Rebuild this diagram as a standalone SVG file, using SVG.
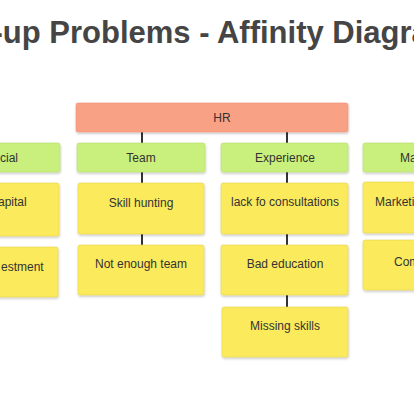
<svg xmlns="http://www.w3.org/2000/svg" width="414" height="400" viewBox="0 0 414 400">
<defs>
<filter id="sh" x="-10%" y="-20%" width="120%" height="150%">
<feDropShadow dx="0.5" dy="1.5" stdDeviation="1.3" flood-color="#000" flood-opacity="0.22"/>
</filter>
</defs>
<style>
.hr{fill:#F9A185;stroke:#EE9478;stroke-width:0.6;filter:url(#sh)}
.cat{fill:#C9F07C;stroke:#B5DC6A;stroke-width:0.6;filter:url(#sh)}
.note{fill:#FBEA5C;stroke:#E6D34A;stroke-width:0.6;filter:url(#sh)}
.t{font-family:"Liberation Sans",Arial,sans-serif;font-size:12px;fill:#333;text-anchor:middle}
.ts{font-family:"Liberation Sans",Arial,sans-serif;font-size:12px;fill:#333}
.title{font-family:"Liberation Sans",Arial,sans-serif;font-size:31px;font-weight:bold;fill:#454545}
.c{stroke:#333;stroke-width:2;fill:none}
</style>
<rect width="414" height="400" fill="#fff"/>
<text class="title" x="-7.5" y="43">-up Problems - Affinity Diagra</text>
<g id="connectors">
<line class="c" x1="142" y1="132" x2="142" y2="143"/>
<line class="c" x1="287" y1="132" x2="287" y2="143"/>
<line class="c" x1="142" y1="172" x2="142" y2="183"/>
<line class="c" x1="287" y1="172" x2="287" y2="183"/>
<line class="c" x1="142" y1="234" x2="142" y2="245"/>
<line class="c" x1="287" y1="234" x2="287" y2="245"/>
<line class="c" x1="287" y1="295" x2="287" y2="307"/>
</g>
<g id="hr"><rect class="hr" x="76" y="103" width="272" height="29" rx="2"/><text class="t" x="222" y="122">HR</text></g>
<g id="financial"><rect class="cat" x="-70" y="143" width="130" height="29" rx="2"/><text class="ts" x="0" y="162">cial</text></g>
<g id="team"><rect class="cat" x="77" y="143" width="128" height="29" rx="2"/><text class="t" x="141" y="162">Team</text></g>
<g id="experience"><rect class="cat" x="221" y="143" width="127" height="29" rx="2"/><text class="t" x="285" y="162">Experience</text></g>
<g id="ma"><rect class="cat" x="363" y="143" width="80" height="29" rx="2"/><text class="ts" x="400" y="162">Ma</text></g>
<g id="capital"><rect class="note" x="-70" y="183" width="129" height="53" rx="2"/><text class="ts" x="-2" y="206">apital</text></g>
<g id="investment"><rect class="note" x="-70" y="247" width="128" height="50" rx="2"/><text class="ts" x="1" y="271">estment</text></g>
<g id="skill-hunting"><rect class="note" x="78" y="183" width="126" height="51" rx="2"/><text class="t" x="141" y="207">Skill hunting</text></g>
<g id="not-enough-team"><rect class="note" x="78" y="245" width="126" height="50" rx="2"/><text class="t" x="141" y="268">Not enough team</text></g>
<g id="lack-consultations"><rect class="note" x="221" y="183" width="127" height="51" rx="2"/><text class="t" x="285" y="206">lack fo consultations</text></g>
<g id="bad-education"><rect class="note" x="221" y="245" width="127" height="50" rx="2"/><text class="t" x="285" y="268">Bad education</text></g>
<g id="missing-skills"><rect class="note" x="222" y="307" width="126" height="50" rx="2"/><text class="t" x="285" y="330">Missing skills</text></g>
<g id="marketing"><rect class="note" x="363" y="182" width="80" height="51" rx="2"/><text class="ts" x="375" y="206">Marketi</text></g>
<g id="com"><rect class="note" x="363" y="240" width="80" height="50" rx="2"/><text class="ts" x="394" y="266">Com</text></g>
</svg>
